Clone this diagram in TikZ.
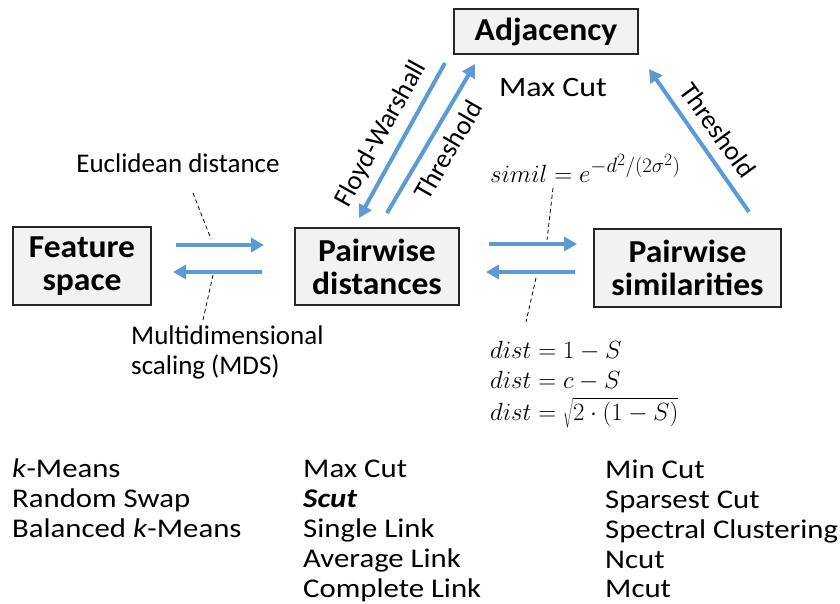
\documentclass[tikz,border=0pt]{standalone}
\usepackage{fontspec}
\setmainfont{Carlito}
\newfontfamily\widefont[FakeStretch=1.14]{Carlito}
\newfontfamily\boxfont[FakeStretch=1.05]{Carlito}
\usetikzlibrary{arrows.meta}
\DeclareMathSizes{27}{27}{21}{17}

\definecolor{flowblue}{RGB}{91,155,213}
\definecolor{boxgray}{RGB}{242,242,242}

\tikzset{
	box/.style={draw=black!85, fill=boxgray, line width=1.3pt, align=center, inner sep=0pt,
		font=\boxfont\fontsize{32}{33}\selectfont\bfseries},
	flow/.style={draw=flowblue, line width=4pt, -{Triangle[length=13pt,width=14pt]}},
	guide/.style={black, line width=0.8pt, dash pattern=on 4pt off 3pt},
	txt/.style={font=\fontsize{27}{30}\selectfont, inner sep=0pt},
	item/.style={font=\widefont\fontsize{27}{30}\selectfont, inner sep=0pt, text depth=0pt, anchor=base west},
}

\begin{document}
\begin{tikzpicture}[x=1pt, y=-1pt]
	\useasboundingbox (0,0) rectangle (840,603);
	
	%boxes
	\node[box, minimum width=138pt, minimum height=78pt] (feat) at (82,266) {Feature\\space};
	\node[box, minimum width=164pt, minimum height=77pt] (dist) at (377,266.5) {Pairwise\\distances};
	\node[box, minimum width=187pt, minimum height=78pt] (simil) at (687.5,268) {Pairwise\\similarities};
	\node[box, minimum width=184pt, minimum height=45pt] (adj) at (546,31.5) {Adjacency};
	
	%arrow ends
	\coordinate (fd1) at (176,245);  \coordinate (fd2) at (264,245);
	\coordinate (df1) at (262,272);  \coordinate (df2) at (173,272);
	\coordinate (ds1) at (489,244);  \coordinate (ds2) at (577,244);
	\coordinate (sd1) at (575,272);  \coordinate (sd2) at (486,272);
	\coordinate (ad1) at (445,63);   \coordinate (ad2) at (359,218);
	\coordinate (da1) at (387,213);  \coordinate (da2) at (475,64);
	\coordinate (sa1) at (749,212);  \coordinate (sa2) at (649,69);
	
	\draw[flow] (fd1) -- (fd2);
	\draw[flow] (df1) -- (df2);
	\draw[flow] (ds1) -- (ds2);
	\draw[flow] (sd1) -- (sd2);
	\draw[flow] (ad1) -- (ad2);
	\draw[flow] (da1) -- (da2);
	\draw[flow] (sa1) -- (sa2);
	
	%labels on the arrows
	\node[txt, rotate=61] (floyd) at (381,134) {Floyd-Warshall};
	\node[txt, rotate=60] (thr1) at (448,150) {Threshold};
	\node[txt, rotate=-54] (thr2) at (718,130) {Threshold};
	\node[item, anchor=center, font=\widefont\fontsize{28}{30}\selectfont] (maxcut) at (553,87) {Max Cut};
	
	%notes with dashed guides
	\node[txt] (eucl) at (178,163) {Euclidean distance};
	\node[txt, align=left, anchor=west] (mds) at (131,352) {Multidimensional\\scaling (MDS)};
	\node[txt, anchor=base west] (simf) at (490,182) {$simil=e^{-d^2/(2\sigma^2)}$};
	\node[txt, anchor=base west] (distf1) at (490,358) {$dist=1-S$};
	\node[txt, anchor=base west] (distf2) at (490,388) {$dist=c-S$};
	\node[txt, anchor=base west] (distf3) at (490,420) {$dist=\sqrt{2\cdot(1-S)}$};
	
	\coordinate (g1) at (193,193);  \coordinate (g2) at (211,239);
	\coordinate (g3) at (213,275);  \coordinate (g4) at (203,320);
	\coordinate (g5) at (553,188);  \coordinate (g6) at (547,240);
	\coordinate (g7) at (536,278);  \coordinate (g8) at (526,322);
	\draw[guide] (g1) -- (g2);
	\draw[guide] (g3) -- (g4);
	\draw[guide] (g5) -- (g6);
	\draw[guide] (g7) -- (g8);
	
	%algorithm lists
	\foreach \t [count=\i] in {\textit{k}-Means, Random Swap, Balanced \textit{k}-Means}
		\node[item] (left\i) at (12, 447+30*\i) {\t};
	\foreach \t [count=\i] in {Max Cut, \textbf{\textit{Scut}}, Single Link, Average Link, Complete Link}
		\node[item] (mid\i) at (303, 447+30*\i) {\t};
	\foreach \t [count=\i] in {Min Cut, Sparsest Cut, Spectral Clustering, Ncut, Mcut}
		\node[item] (right\i) at (605, 449+29.75*\i) {\t};
\end{tikzpicture}
\end{document}
